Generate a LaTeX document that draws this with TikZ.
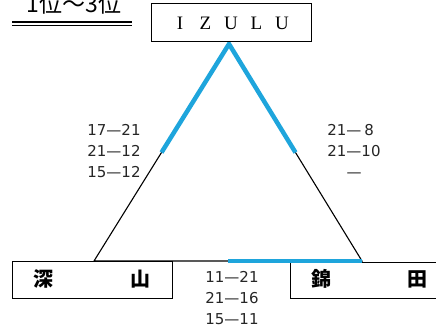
\documentclass[tikz,border=0pt]{standalone}
\usepackage{fontspec}
\setmainfont{Liberation Serif}
\newfontfamily\cjk{Noto Sans CJK JP}
\newfontfamily\numfont{DejaVu Sans}
\usetikzlibrary{calc}
\definecolor{blu}{RGB}{30,165,220}
\begin{document}
\begin{tikzpicture}[x=1pt,y=-1pt,
  frame/.style={draw=black, line width=1pt, fill=white, inner sep=0pt},
  score/.style={font=\numfont\fontsize{15}{21}\selectfont, align=center, text=black!85, inner sep=0pt},
  teamname/.style={font=\cjk\bfseries\fontsize{20}{20}\selectfont, inner sep=0pt},
  side/.style={line width=1.1pt, draw=black},
  hi/.style={line width=4.5pt, draw=blu},
  rule/.style={line width=1.3pt, draw=black}]
\useasboundingbox (0,0) rectangle (436,331);
% title
\node[anchor=base, font=\cjk\fontsize{23}{23}\selectfont, inner sep=0pt] (title) at (74,12.5) {1位～3位};
\coordinate (u1) at (12,22); \coordinate (u2) at (132,22);
\coordinate (u3) at (12,25.5); \coordinate (u4) at (132,25.5);
\draw[rule] (u1) -- (u2);
\draw[rule] (u3) -- (u4);
% bottom boxes
\node[frame, minimum width=160pt, minimum height=37pt] (fuka) at (92,279.5) {};
\node[frame, minimum width=170pt, minimum height=36pt] (nishiki) at (375,280) {};
\node[teamname] (fuka1) at (43,279) {深};
\node[teamname] (fuka2) at (140,279) {山};
\node[teamname] (nish1) at (321,279) {錦};
\node[teamname] (nish2) at (417,279) {田};
% triangle
\coordinate (A) at (229,44);
\coordinate (B) at (94,261);
\coordinate (C) at (362,261);
\draw[side] (A) -- (B) -- (C) -- cycle;
\draw[hi, line join=miter] ($(A)!0.5!(B)$) -- (A) -- ($(A)!0.5!(C)$);
\draw[hi] ($(B)!0.5!(C)$) -- (C);
% top box
\node[frame, minimum width=160pt, minimum height=38pt, font=\fontsize{19}{19}\selectfont] (izulu) at (231,23)
  {\makebox[25.5pt]{I}\makebox[25.5pt]{Z}\makebox[25.5pt]{U}\makebox[25.5pt]{L}\makebox[25.5pt]{U}};
% scores
\node[score] (sl) at (114,151) {17—21\\21—12\\15—12};
\node[score, align=left] (sr) at (354,151) {21—\hspace{3pt}8\\21—10\\\hphantom{21}—};
\node[score] (sb) at (232,298) {11—21\\21—16\\15—11};
\end{tikzpicture}
\end{document}
